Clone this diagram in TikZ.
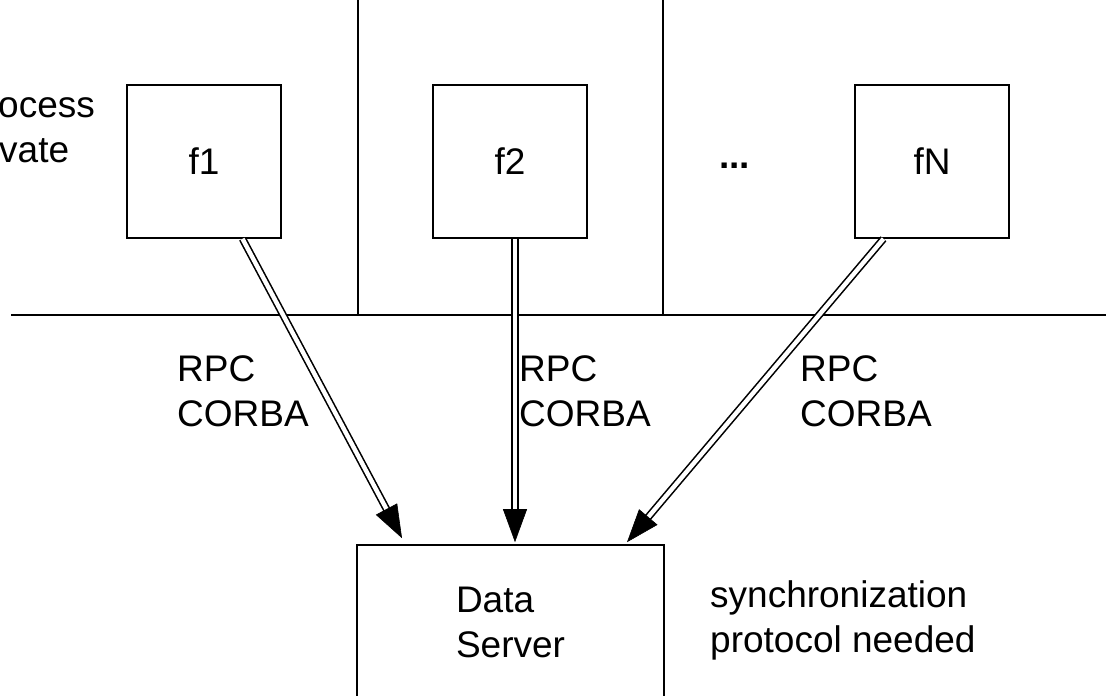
\documentclass[tikz,border=0pt]{standalone}
\usepackage{fontspec}
\setmainfont{Liberation Sans}
\usetikzlibrary{arrows.meta,calc}
\begin{document}
\begin{tikzpicture}[x=1pt,y=-1pt,
  every node/.style={font=\fontsize{37}{45}\selectfont, inner sep=0pt},
  box/.style={draw, line width=1.6pt, minimum width=154pt, minimum height=153pt},
  lbl/.style={align=left, anchor=north west},
  dbl/.style={line width=1.6pt, double, double distance=4.4pt},
  tip/.style={line width=0.6pt, -{Triangle[length=33pt,width=24pt]}},
  divider/.style={line width=1.6pt}]
\useasboundingbox (0,0) rectangle (1106,696);
% dividers
\draw[divider] (358,0) -- (358,315);
\draw[divider] (663,0) -- (663,315);
\draw[divider] (11,315) -- (1106,315);
% boxes
\node[box] (f1) at (204,161.5) {f1};
\node[box] (f2) at (510,161.5) {f2};
\node[box] (fN) at (932,161.5) {fN};
\node[box, minimum width=307pt, minimum height=154pt, align=left] (ds) at (510.5,622) {Data\\Server};
% texts
\node[anchor=base west] (t1a) at (-2,117) {ocess};
\node[anchor=base west] (t1b) at (-1,162) {vate};
\node[anchor=base west, font=\fontsize{37}{45}\selectfont\bfseries] (dots) at (719,168) {...};
\node[lbl] (l1) at (177,355) {RPC\\CORBA};
\node[lbl] (l2) at (519,355) {RPC\\CORBA};
\node[lbl] (l3) at (800,355) {RPC\\CORBA};
\node[lbl] (sync) at (710,580.5) {synchronization\\protocol needed};
% arrows
\coordinate (s1) at ($(f1.south)+(38.5,0)$);
\coordinate (s2) at ($(f2.south)+(5,0)$);
\coordinate (s3) at ($(fN.south)+(-48.5,0)$);
\coordinate (e1) at ($(ds.north)+(-108.5,-6)$);
\coordinate (e2) at ($(ds.north)+(4.5,-2)$);
\coordinate (e3) at ($(ds.north)+(116.5,-2)$);
\foreach \s/\t in {s1/e1,s2/e2,s3/e3}{
  \draw[dbl] (\s) -- ($(\t)!26pt!(\s)$);
  \draw[tip] ($(\t)!33pt!(\s)$) -- (\t);
}
\end{tikzpicture}
\end{document}
